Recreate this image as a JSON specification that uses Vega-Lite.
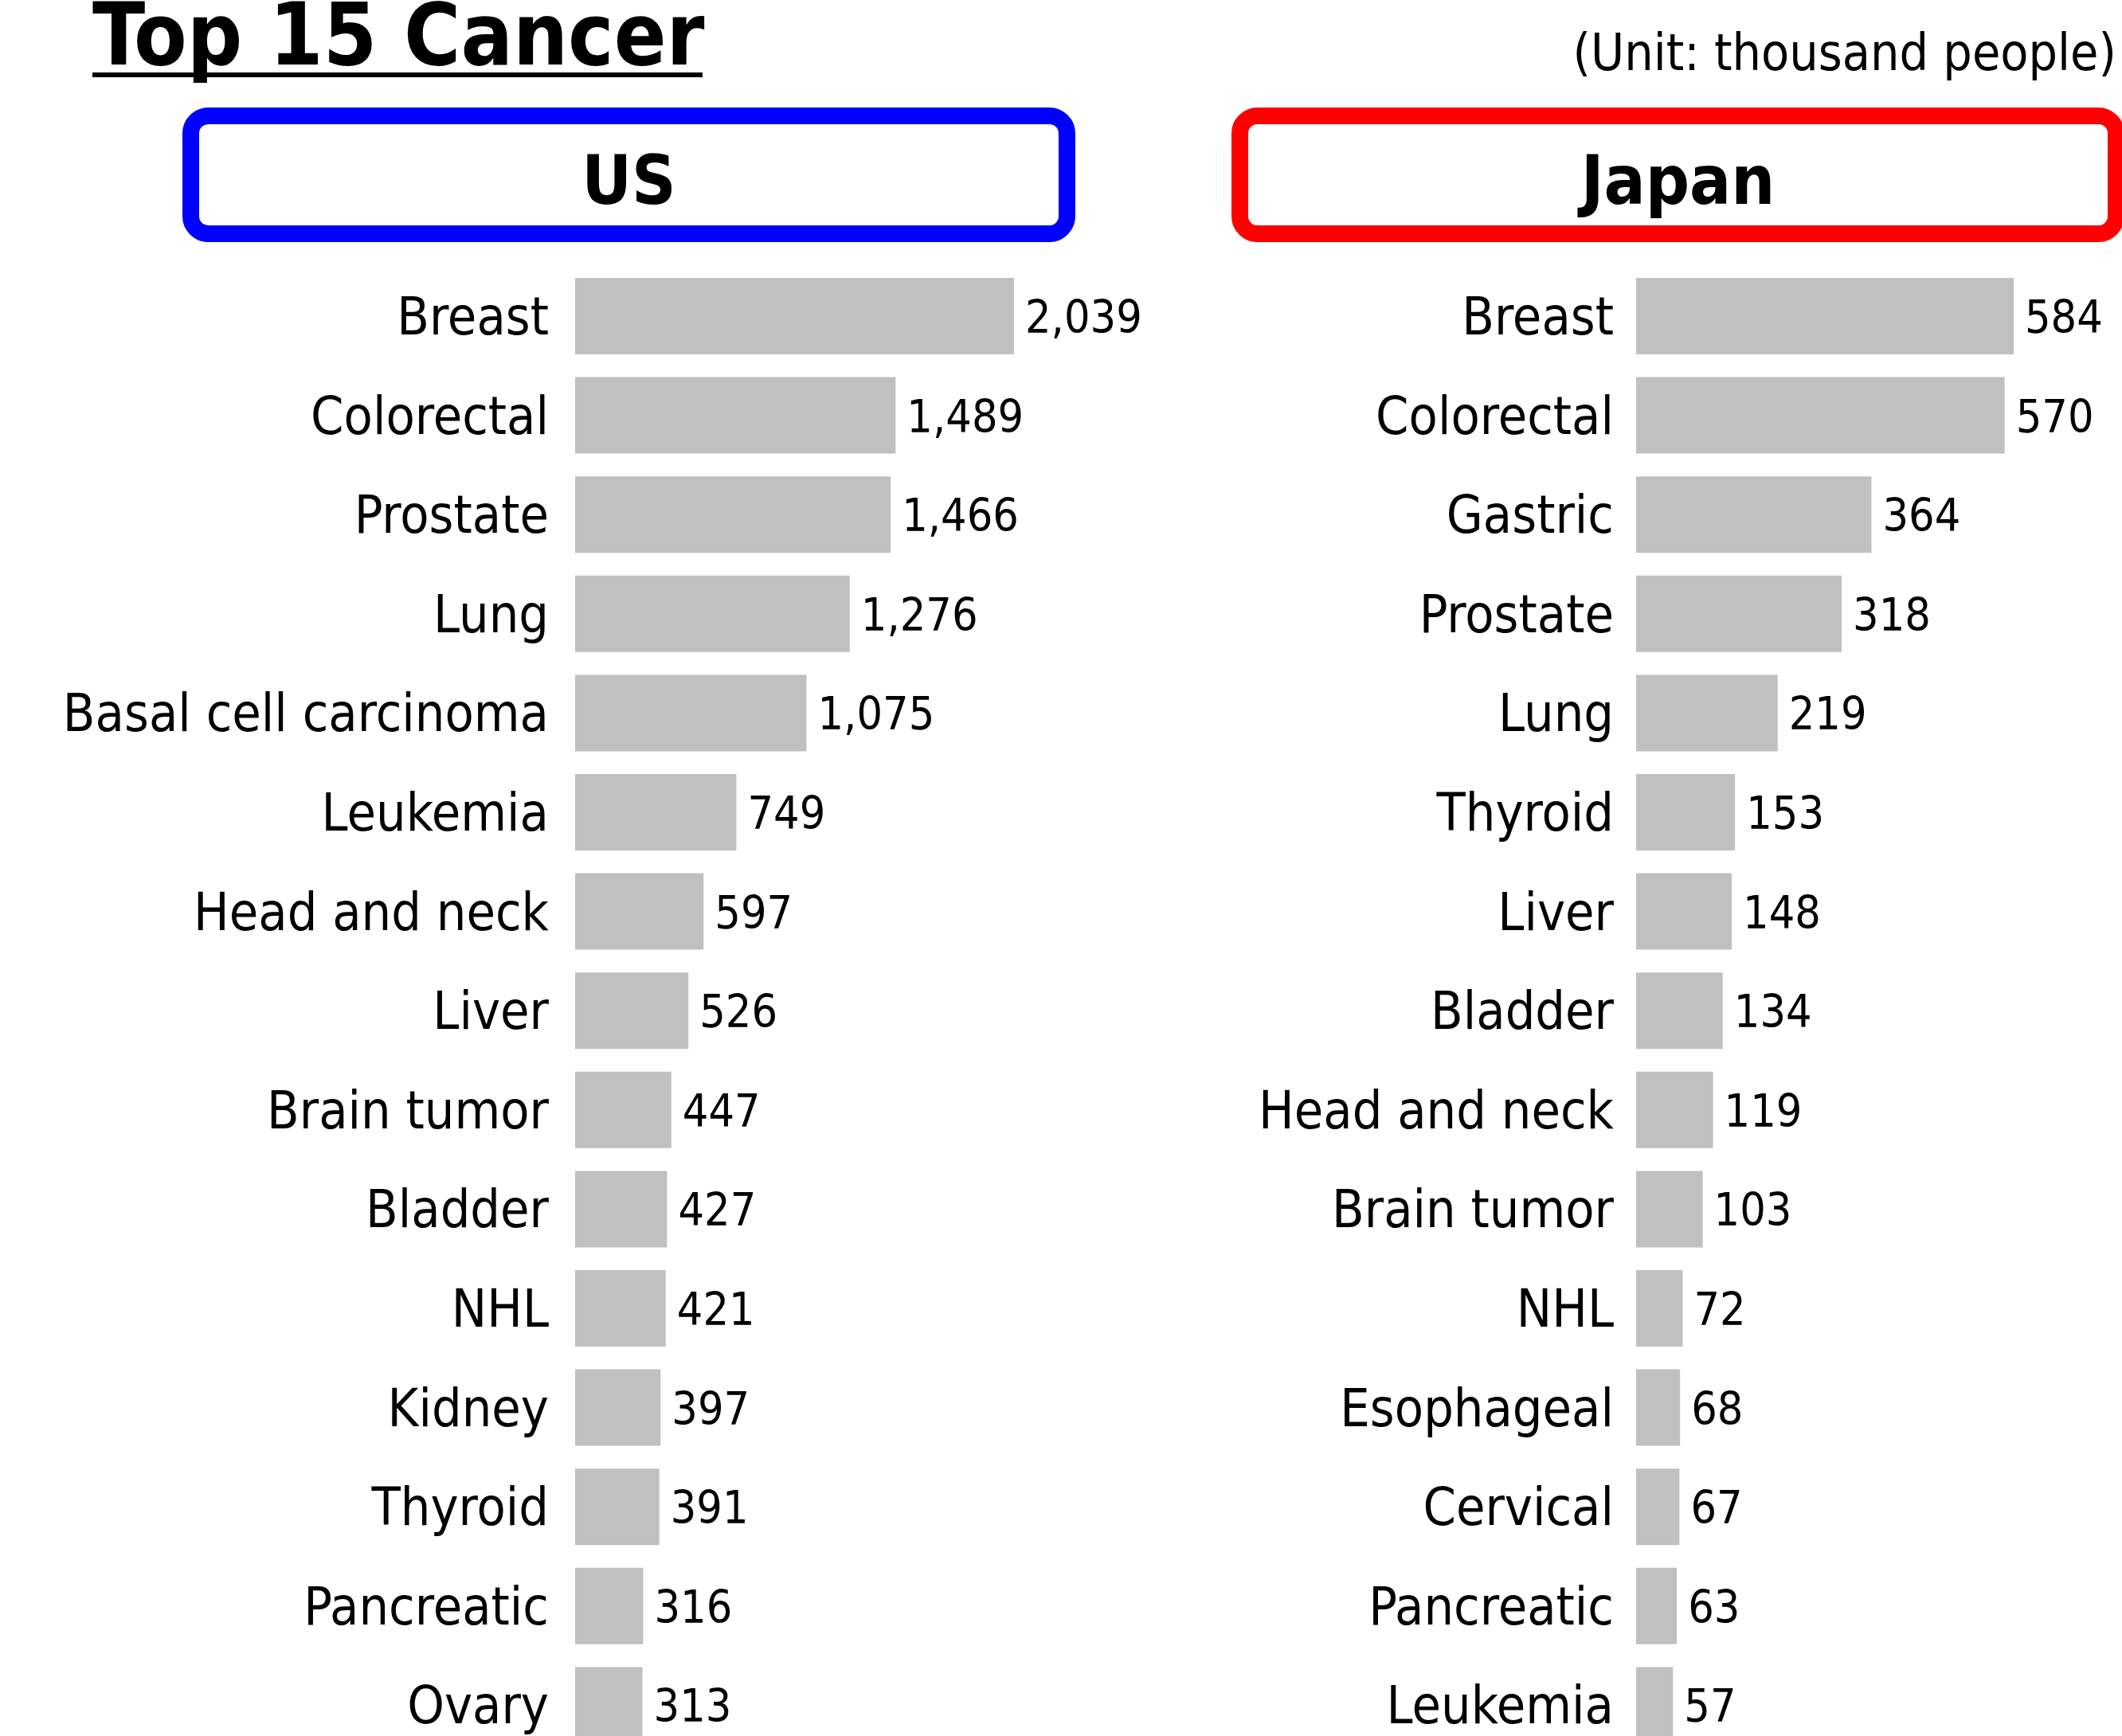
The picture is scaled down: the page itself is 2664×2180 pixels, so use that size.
{
  "$schema": "https://vega.github.io/schema/vega-lite/v6.json",
  "width": 2664,
  "height": 2180,
  "autosize": {"type": "none"},
  "padding": 0,
  "background": "white",
  "config": {"view": {"stroke": null}, "text": {"font": "DejaVu Sans Condensed, DejaVu Sans", "color": "black"}},
  "datasets": {
    "cancer": [
      {"country": "US", "rank": 1, "cancer": "Breast", "value": 2039},
      {"country": "US", "rank": 2, "cancer": "Colorectal", "value": 1489},
      {"country": "US", "rank": 3, "cancer": "Prostate", "value": 1466},
      {"country": "US", "rank": 4, "cancer": "Lung", "value": 1276},
      {"country": "US", "rank": 5, "cancer": "Basal cell carcinoma", "value": 1075},
      {"country": "US", "rank": 6, "cancer": "Leukemia", "value": 749},
      {"country": "US", "rank": 7, "cancer": "Head and neck", "value": 597},
      {"country": "US", "rank": 8, "cancer": "Liver", "value": 526},
      {"country": "US", "rank": 9, "cancer": "Brain tumor", "value": 447},
      {"country": "US", "rank": 10, "cancer": "Bladder", "value": 427},
      {"country": "US", "rank": 11, "cancer": "NHL", "value": 421},
      {"country": "US", "rank": 12, "cancer": "Kidney", "value": 397},
      {"country": "US", "rank": 13, "cancer": "Thyroid", "value": 391},
      {"country": "US", "rank": 14, "cancer": "Pancreatic", "value": 316},
      {"country": "US", "rank": 15, "cancer": "Ovary", "value": 313},
      {"country": "Japan", "rank": 1, "cancer": "Breast", "value": 584},
      {"country": "Japan", "rank": 2, "cancer": "Colorectal", "value": 570},
      {"country": "Japan", "rank": 3, "cancer": "Gastric", "value": 364},
      {"country": "Japan", "rank": 4, "cancer": "Prostate", "value": 318},
      {"country": "Japan", "rank": 5, "cancer": "Lung", "value": 219},
      {"country": "Japan", "rank": 6, "cancer": "Thyroid", "value": 153},
      {"country": "Japan", "rank": 7, "cancer": "Liver", "value": 148},
      {"country": "Japan", "rank": 8, "cancer": "Bladder", "value": 134},
      {"country": "Japan", "rank": 9, "cancer": "Head and neck", "value": 119},
      {"country": "Japan", "rank": 10, "cancer": "Brain tumor", "value": 103},
      {"country": "Japan", "rank": 11, "cancer": "NHL", "value": 72},
      {"country": "Japan", "rank": 12, "cancer": "Esophageal", "value": 68},
      {"country": "Japan", "rank": 13, "cancer": "Cervical", "value": 67},
      {"country": "Japan", "rank": 14, "cancer": "Pancreatic", "value": 63},
      {"country": "Japan", "rank": 15, "cancer": "Leukemia", "value": 57}
    ]
  },
  "layer": [
    {
      "data": {"values": [{"title": "Top 15 Cancer"}]},
      "encoding": {
        "x": {"field": "title", "type": "nominal", "axis": null, "scale": {"type": "band", "domain": ["Top 15 Cancer"], "range": [116, 882], "paddingInner": 0, "paddingOuter": 0}},
        "y": {"field": "title", "type": "nominal", "axis": null, "scale": {"type": "band", "domain": ["Top 15 Cancer"], "range": [91, 97], "paddingInner": 0, "paddingOuter": 0}}
      },
      "layer": [
        {"mark": {"type": "rect", "fill": "black"}},
        {
          "mark": {"type": "text", "align": "left", "baseline": "alphabetic", "dy": -10, "fontSize": 108, "fontWeight": "bold"},
          "encoding": {
            "text": {"field": "title"},
            "x": {"field": "title", "type": "nominal", "bandPosition": 0, "axis": null},
            "y": {"field": "title", "type": "nominal", "bandPosition": 0, "axis": null}
          }
        }
      ]
    },
    {
      "data": {"values": [{"unit": "(Unit: thousand people)"}]},
      "mark": {"type": "text", "align": "right", "baseline": "alphabetic", "fontSize": 64},
      "encoding": {
        "text": {"field": "unit"},
        "x": {"field": "unit", "type": "nominal", "bandPosition": 1, "axis": null, "scale": {"type": "band", "domain": ["(Unit: thousand people)"], "range": [1986, 2657], "paddingInner": 0, "paddingOuter": 0}},
        "y": {"field": "unit", "type": "nominal", "bandPosition": 1, "axis": null, "scale": {"type": "band", "domain": ["(Unit: thousand people)"], "range": [40, 88], "paddingInner": 0, "paddingOuter": 0}}
      }
    },
    {
      "data": {"values": [{"country": "US"}, {"country": "Japan"}]},
      "encoding": {
        "x": {"field": "country", "type": "nominal", "axis": null, "scale": {"type": "band", "domain": ["US", "Japan"], "range": [239.5, 2656.5], "paddingInner": 0.1648, "paddingOuter": 0}},
        "y": {"datum": "header", "type": "nominal", "axis": null, "scale": {"type": "band", "domain": ["header"], "range": [145.5, 293.5], "paddingInner": 0, "paddingOuter": 0}}
      },
      "layer": [
        {
          "mark": {"type": "rect", "fill": "white", "strokeWidth": 21, "cornerRadius": 22},
          "encoding": {
            "stroke": {"field": "country", "type": "nominal", "legend": null, "scale": {"domain": ["US", "Japan"], "range": ["#0000ff", "#ff0000"]}}
          }
        },
        {
          "mark": {"type": "text", "baseline": "alphabetic", "dy": 36, "fontSize": 86, "fontWeight": "bold"},
          "encoding": {"text": {"field": "country"}}
        }
      ]
    },
    {
      "data": {"name": "cancer"},
      "transform": [{"filter": "datum.country === 'US'"}],
      "encoding": {
        "y": {"field": "rank", "type": "ordinal", "axis": null, "scale": {"type": "band", "domain": [1,2,3,4,5,6,7,8,9,10,11,12,13,14,15], "range": [334.7, 2203.7], "paddingInner": 0.2295, "paddingOuter": 0.11475}}
      },
      "layer": [
        {
          "mark": {"type": "bar", "color": "#c0c0c0"},
          "encoding": {
            "x": {"field": "value", "type": "quantitative", "axis": null, "scale": {"domain": [0, 2039], "range": [722, 1273], "nice": false, "zero": true}}
          }
        },
        {
          "mark": {"type": "text", "align": "right", "baseline": "middle", "dx": -33, "dy": 3, "fontSize": 66},
          "encoding": {
            "x": {"datum": 0, "type": "quantitative"},
            "text": {"field": "cancer"}
          }
        },
        {
          "mark": {"type": "text", "align": "left", "baseline": "middle", "dx": 14, "dy": 4, "fontSize": 57},
          "encoding": {
            "x": {"field": "value", "type": "quantitative"},
            "text": {"field": "value", "type": "quantitative", "format": ","}
          }
        }
      ]
    },
    {
      "data": {"name": "cancer"},
      "transform": [{"filter": "datum.country === 'Japan'"}],
      "encoding": {
        "y": {"field": "rank", "type": "ordinal", "axis": null, "scale": {"type": "band", "domain": [1,2,3,4,5,6,7,8,9,10,11,12,13,14,15], "range": [334.7, 2203.7], "paddingInner": 0.2295, "paddingOuter": 0.11475}}
      },
      "layer": [
        {
          "mark": {"type": "bar", "color": "#c0c0c0"},
          "encoding": {
            "x": {"field": "value", "type": "quantitative", "axis": null, "scale": {"domain": [0, 584], "range": [2054, 2528], "nice": false, "zero": true}}
          }
        },
        {
          "mark": {"type": "text", "align": "right", "baseline": "middle", "dx": -28, "dy": 3, "fontSize": 66},
          "encoding": {
            "x": {"datum": 0, "type": "quantitative"},
            "text": {"field": "cancer"}
          }
        },
        {
          "mark": {"type": "text", "align": "left", "baseline": "middle", "dx": 14, "dy": 4, "fontSize": 57},
          "encoding": {
            "x": {"field": "value", "type": "quantitative"},
            "text": {"field": "value", "type": "quantitative", "format": ","}
          }
        }
      ]
    }
  ],
  "resolve": {"scale": {"x": "independent", "y": "independent", "stroke": "independent"}}
}
